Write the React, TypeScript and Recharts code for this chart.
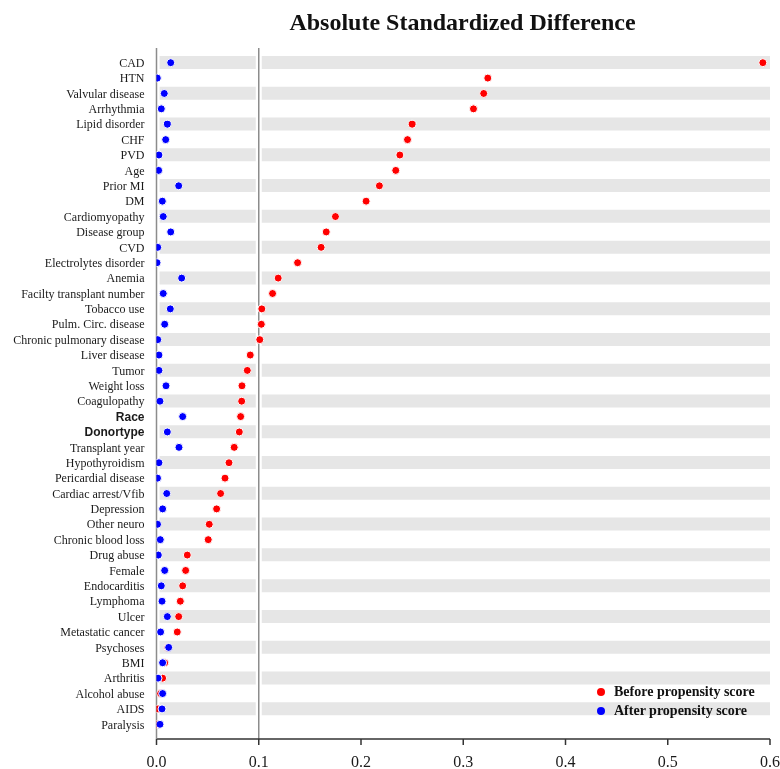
import { Bar, ComposedChart, ReferenceLine, Scatter, XAxis, YAxis } from 'recharts';

const BEFORE_COLOR = '#ff0000';
const AFTER_COLOR = '#0000ff';
const BAND_COLOR = '#e6e6e6';
const SERIF = '"Liberation Serif", "Times New Roman", serif';
const SANS = '"Liberation Sans", Arial, sans-serif';

const covariates = [
  'CAD', 'HTN', 'Valvular disease', 'Arrhythmia', 'Lipid disorder', 'CHF', 'PVD', 'Age',
  'Prior MI', 'DM', 'Cardiomyopathy', 'Disease group', 'CVD', 'Electrolytes disorder',
  'Anemia', 'Facilty transplant number', 'Tobacco use', 'Pulm. Circ. disease',
  'Chronic pulmonary disease', 'Liver disease', 'Tumor', 'Weight loss', 'Coagulopathy',
  'Race', 'Donortype', 'Transplant year', 'Hypothyroidism', 'Pericardial disease',
  'Cardiac arrest/Vfib', 'Depression', 'Other neuro', 'Chronic blood loss', 'Drug abuse',
  'Female', 'Endocarditis', 'Lymphoma', 'Ulcer', 'Metastatic cancer', 'Psychoses', 'BMI',
  'Arthritis', 'Alcohol abuse', 'AIDS', 'Paralysis',
];

// before propensity score matching
const beforeValues = [
  0.593, 0.324, 0.32, 0.31, 0.25, 0.2455, 0.238, 0.234,
  0.218, 0.205, 0.175, 0.166, 0.161, 0.138,
  0.119, 0.1135, 0.103, 0.1025,
  0.101, 0.0917, 0.0888, 0.0836, 0.0833,
  0.0823, 0.081, 0.076, 0.0709, 0.067,
  0.0627, 0.0588, 0.0516, 0.0506, 0.0301,
  0.0285, 0.0256, 0.0233, 0.0217, 0.0203, 0.011, 0.008,
  0.006, 0.004, 0.0015, 0.0008,
];

// after propensity score matching
const afterValues = [
  0.0139, 0.0008, 0.0076, 0.0047, 0.0106, 0.009, 0.0024, 0.0021,
  0.0217, 0.0057, 0.0066, 0.0139, 0.0012, 0.0005,
  0.0246, 0.0066, 0.0135, 0.008,
  0.0012, 0.0024, 0.0024, 0.0093, 0.0034,
  0.0256, 0.0106, 0.022, 0.0024, 0.001,
  0.01, 0.006, 0.001, 0.0037, 0.0018,
  0.008, 0.0047, 0.0054, 0.0106, 0.004, 0.0119, 0.006,
  0.0015, 0.006, 0.0054, 0.0034,
];

const xTicks = [0, 0.1, 0.2, 0.3, 0.4, 0.5, 0.6];
const boldLabels = ['Race', 'Donortype'];

const seriesNames = { before: 'Before propensity score', after: 'After propensity score' };

const data = covariates.map((name, i) => ({
  name,
  before: beforeValues[i],
  after: afterValues[i],
  band: i % 2 === 0 ? [0.003, 0.6] : null,
}));

const dot = (color: string) => (props: any) => (
  <circle cx={props.cx} cy={props.cy} r={4} fill={color} stroke="#fff" strokeWidth={1} />
);

function CovariateTick(props: any) {
  const { x, y, payload } = props;
  const bold = boldLabels.includes(payload.value);
  return (
    <text
      x={x}
      y={y}
      dy="0.35em"
      textAnchor="end"
      fontFamily={bold ? SANS : SERIF}
      fontWeight={bold ? 700 : 400}
      fontSize={12}
      fill="#1a1a1a"
    >
      {payload.value}
    </text>
  );
}

export default function App() {
  return (
    <div style={{ position: 'fixed', left: 0, top: 0, width: 780, height: 769 }}>
      <div
        style={{
          position: 'absolute',
          left: 462.5,
          top: 10,
          transform: 'translateX(-50%)',
          whiteSpace: 'nowrap',
          fontFamily: SERIF,
          fontWeight: 700,
          fontSize: 24,
          lineHeight: '24px',
          color: '#111',
        }}
      >
        Absolute Standardized Difference
      </div>
      <ComposedChart
        width={780}
        height={769}
        data={data}
        layout="vertical"
        margin={{ top: 48, right: 10, bottom: 0, left: 0 }}
      >
        <XAxis
          type="number"
          domain={[0, 0.6]}
          ticks={xTicks}
          allowDataOverflow
          tickFormatter={(v: number) => v.toFixed(1)}
          tick={{ fontFamily: SERIF, fontSize: 16, fill: '#1a1a1a' }}
          axisLine={{ stroke: '#333', strokeWidth: 1.5 }}
          tickLine={{ stroke: '#333', strokeWidth: 1.5 }}
          tickSize={6}
          tickMargin={11}
          height={30}
        />
        <YAxis
          type="category"
          dataKey="name"
          width={156.5}
          interval={0}
          padding={{ top: 7, bottom: 7 }}
          tick={<CovariateTick />}
          tickLine={false}
          tickSize={0}
          tickMargin={12}
          axisLine={{ stroke: '#8c8c8c', strokeWidth: 1.5 }}
        />
        <Bar dataKey="band" fill={BAND_COLOR} barSize={13} isAnimationActive={false} />
        <ReferenceLine x={0.1} stroke="#fff" strokeWidth={6} />
        <ReferenceLine x={0.1} stroke="#8c8c8c" strokeWidth={1.5} />
        <Scatter
          name={seriesNames.before}
          dataKey="before"
          shape={dot(BEFORE_COLOR)}
          isAnimationActive={false}
        />
        <Scatter
          name={seriesNames.after}
          dataKey="after"
          shape={dot(AFTER_COLOR)}
          isAnimationActive={false}
        />
      </ComposedChart>
      <div
        style={{
          position: 'absolute',
          left: 597,
          top: 683,
          fontFamily: SERIF,
          fontWeight: 700,
          fontSize: 14,
          color: '#111',
        }}
      >
        {[
          { label: seriesNames.before, color: BEFORE_COLOR },
          { label: seriesNames.after, color: AFTER_COLOR },
        ].map((item) => (
          <div
            key={item.label}
            style={{ display: 'flex', alignItems: 'center', height: 18.4, whiteSpace: 'nowrap' }}
          >
            <span
              style={{
                display: 'inline-block',
                width: 8,
                height: 8,
                borderRadius: '50%',
                background: item.color,
                marginRight: 9,
              }}
            />
            {item.label}
          </div>
        ))}
      </div>
    </div>
  );
}
